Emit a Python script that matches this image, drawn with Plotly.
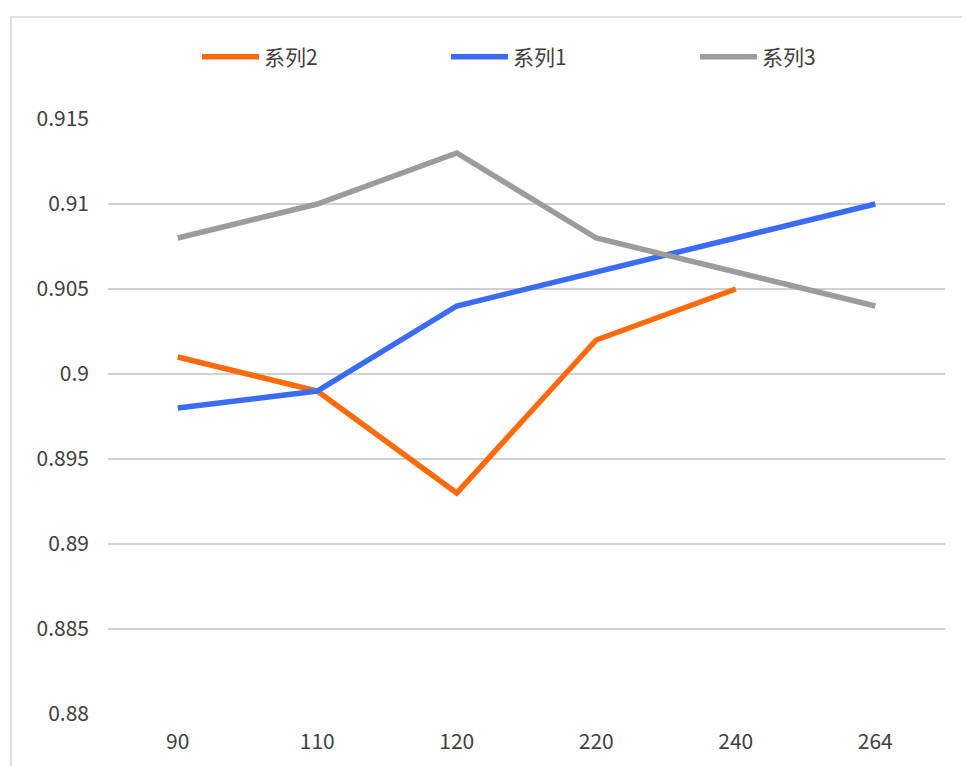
import plotly.graph_objects as go

categories = ["90", "110", "120", "220", "240", "264"]
series2 = [0.901, 0.899, 0.893, 0.902, 0.905, None]
series1 = [0.898, 0.899, 0.904, 0.906, 0.908, 0.910]
series3 = [0.908, 0.910, 0.913, 0.908, 0.906, 0.904]
y_ticks = [0.88, 0.885, 0.89, 0.895, 0.9, 0.905, 0.91, 0.915]

FONT = "Noto Sans CJK SC, Open Sans, sans-serif"

fig = go.Figure()
fig.add_trace(go.Scatter(x=categories, y=series2, name="系列2", mode="lines",
                         line=dict(color="#FF6A0D", width=5.5)))
fig.add_trace(go.Scatter(x=categories, y=series1, name="系列1", mode="lines",
                         line=dict(color="#3B6CF5", width=5.5)))
fig.add_trace(go.Scatter(x=categories, y=series3, name="系列3", mode="lines",
                         line=dict(color="#9C9C9C", width=5.5)))

# outer chart frame
fig.add_shape(type="rect", xref="paper", yref="paper",
              x0=-0.1159, x1=1.06, y0=-0.3, y1=1.1714,
              line=dict(color="#D6D6D6", width=1.5), layer="below")

# page body has an 8px margin, so margins are shifted to compensate
fig.update_layout(
    width=970, height=766,
    margin=dict(l=100, r=33, t=111, b=60, autoexpand=False),
    paper_bgcolor="white", plot_bgcolor="white",
    font=dict(family=FONT, size=21, color="#404040"),
    showlegend=True,
    legend=dict(orientation="h", x=0.1063, y=1.104, xanchor="left", yanchor="middle",
                entrywidth=177, entrywidthmode="pixels",
                font=dict(size=21, color="#404040"), itemwidth=57),
    xaxis=dict(type="category", range=[-0.5, 5.5], showgrid=False, zeroline=False,
               showline=False, ticks="", tickfont=dict(size=21), ticklabelstandoff=13),
    yaxis=dict(range=[0.88, 0.915], tickvals=y_ticks,
               ticktext=[f"{v:g}" for v in y_ticks],
               showgrid=True, gridcolor="#D0D0D0", gridwidth=1.5,
               zeroline=False, showline=False, ticks="",
               tickfont=dict(size=21), ticklabelstandoff=18),
)

fig.write_html("out.html")
